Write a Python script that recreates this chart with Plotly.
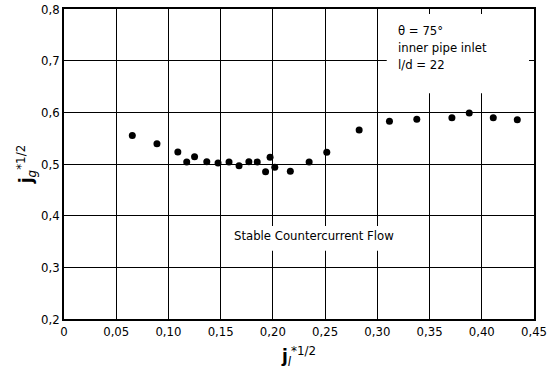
import plotly.graph_objects as go

# Data
j_l = [0.0654, 0.089, 0.109, 0.1175, 0.125, 0.1367, 0.1475, 0.158, 0.1676, 0.177,
       0.185, 0.193, 0.1973, 0.2018, 0.2167, 0.2347, 0.2516, 0.2826, 0.3116, 0.3378,
       0.3714, 0.388, 0.411, 0.434]
j_g = [0.555, 0.539, 0.523, 0.504, 0.514, 0.5045, 0.502, 0.504, 0.4967, 0.5045,
       0.504, 0.485, 0.513, 0.4936, 0.486, 0.504, 0.5226, 0.5658, 0.5827, 0.5865,
       0.5896, 0.5987, 0.5896, 0.5858]

x_ticks = [0, 0.05, 0.10, 0.15, 0.20, 0.25, 0.30, 0.35, 0.40, 0.45]
x_labels = ["0", "0,05", "0,10", "0,15", "0,20", "0,25", "0,30", "0,35", "0,40", "0,45"]
y_ticks = [0.2, 0.3, 0.4, 0.5, 0.6, 0.7, 0.8]
y_labels = ["0,2", "0,3", "0,4", "0,5", "0,6", "0,7", "0,8"]

FONT = "DejaVu Sans Condensed, Liberation Sans Narrow, sans-serif"

fig = go.Figure()
fig.add_trace(go.Scatter(
    x=j_l, y=j_g, mode="markers",
    marker=dict(color="black", size=7, line=dict(width=0)),
    showlegend=False,
))

axis_common = dict(
    showline=True, linecolor="black", linewidth=1.6, mirror="ticks",
    ticks="inside", ticklen=5, tickwidth=1.2, tickcolor="black",
    showgrid=True, gridcolor="black", gridwidth=1.1, zeroline=False,
    automargin=False,
    tickfont=dict(family=FONT, size=13, color="black"),
)

fig.update_xaxes(range=[0, 0.45], tickvals=x_ticks, ticktext=x_labels,
                 title=dict(text="<b>j</b><sub><i>l</i></sub><sup>*1/2</sup>",
                            font=dict(family="DejaVu Sans", size=17, color="black"),
                            standoff=12),
                 **axis_common)
fig.update_yaxes(range=[0.2, 0.8], tickvals=y_ticks, ticktext=y_labels,
                 title=dict(text="<b>j</b><sub><i>g</i></sub><sup>*1/2</sup>",
                            font=dict(family="DejaVu Sans", size=17, color="black"),
                            standoff=4),
                 **axis_common)

# white panels that mask the grid behind the text blocks (ticks stay visible)
fig.add_shape(type="rect", xref="x", yref="y", x0=0.309, x1=0.45, y0=0.637, y1=0.8,
              fillcolor="white", line=dict(width=0), layer="between")
fig.add_shape(type="rect", xref="x", yref="y", x0=0.156, x1=0.322, y0=0.332, y1=0.380,
              fillcolor="white", line=dict(width=0), layer="between")

fig.add_annotation(x=0.318, y=0.776, xref="x", yref="y", xanchor="left", yanchor="top",
                   align="left", showarrow=False,
                   text="θ = 75°<br>inner pipe inlet<br>l/d = 22",
                   font=dict(family=FONT, size=13, color="black"))
fig.add_annotation(x=0.239, y=0.3607, xref="x", yref="y", showarrow=False,
                   text="Stable Countercurrent Flow",
                   font=dict(family=FONT, size=13, color="black"))

fig.update_layout(
    width=550, height=374,
    margin=dict(l=64, r=16, t=9, b=55),
    paper_bgcolor="white", plot_bgcolor="white",
    font=dict(family=FONT, color="black"),
)

fig.write_html("out.html", config={"displayModeBar": False},
               post_script="document.body.style.margin='0';")
